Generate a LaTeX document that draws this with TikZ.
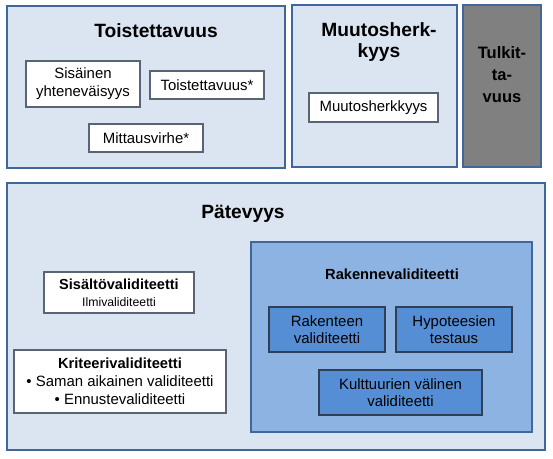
\documentclass[tikz,border=0pt]{standalone}
\usepackage{fontspec}
\setmainfont{Liberation Sans}
\usetikzlibrary{positioning}

\definecolor{paleblue}{HTML}{DBE5F1}
\definecolor{frameblue}{HTML}{41679A}
\definecolor{midblue}{HTML}{8DB3E2}
\definecolor{deepblue}{HTML}{558ED5}
\definecolor{darkline}{HTML}{2F3F55}

\begin{document}
\begin{tikzpicture}[x=0.75pt, y=-0.75pt,
	every node/.style={inner sep=0pt, align=center},
	area/.style={draw=frameblue, line width=2pt, fill=paleblue},
	item/.style={draw=darkline!80, line width=0.8pt, fill=white, font=\fontsize{11.2}{13.5}\selectfont},
	subitem/.style={draw=darkline, line width=0.8pt, fill=deepblue, font=\fontsize{11.2}{13}\selectfont},
	heading/.style={font=\fontsize{14.4}{15.75}\selectfont\bfseries}]
	
	\useasboundingbox (0,0) rectangle (553,458);
	
	% top row
	\node[area, minimum width=208.5pt, minimum height=121.5pt] (rel) at (146,87) {};
	\node[area, minimum width=123.75pt, minimum height=121.5pt] (resp) at (374.5,86) {};
	\node[area, fill=gray, minimum width=58.5pt, minimum height=121.5pt] (interp) at (502,86) {};
	
	\node[heading] (reltitle) at (156,31) {Toistettavuus};
	\node[heading] (resptitle) at (379,42.5) {Muutosherk-\\kyys};
	\node[font=\fontsize{12.4}{16.5}\selectfont\bfseries] (interptitle) at (502,75) {Tulkit-\\ta-\\vuus};
	
	\node[item, minimum width=85.5pt, minimum height=34.5pt] (1) at (83,84) {Sisäinen\\yhteneväisyys};
	\node[item, minimum width=85.5pt, minimum height=21pt] (2) at (207,85) {Toistettavuus*};
	\node[item, minimum width=85.5pt, minimum height=21pt] (3) at (146,138) {Mittausvirhe*};
	\node[item, minimum width=96.75pt, minimum height=21.75pt] (4) at (373.5,107.5) {Muutosherkkyys};
	
	% bottom
	\node[area, minimum width=403.5pt, minimum height=200.25pt] (valid) at (276,316.5) {};
	\node[heading] (validtitle) at (243,214) {Pätevyys};
	
	\node[item, minimum width=112.5pt, minimum height=30.75pt] (5) at (119,292.5)
		{{\fontsize{10.9}{13}\selectfont\bfseries Sisältövaliditeetti}\\[-1pt]{\fontsize{9.2}{11}\selectfont Ilmivaliditeetti}};
	\node[item, minimum width=159pt, minimum height=47.25pt] (6) at (120,381.5)
		{{\fontsize{11}{13.5}\selectfont\bfseries Kriteerivaliditeetti}\\• Saman aikainen validiteetti\\• Ennustevaliditeetti};
	
	\node[area, fill=midblue, minimum width=210.75pt, minimum height=142.5pt] (constr) at (391.5,337) {};
	\node[font=\fontsize{11}{13}\selectfont\bfseries] (constrtitle) at (392,274) {Rakennevaliditeetti};
	
	\node[subitem, minimum width=87pt, minimum height=33.75pt] (7) at (327,329.5) {Rakenteen\\validiteetti};
	\node[subitem, minimum width=87pt, minimum height=33.75pt] (8) at (454,329.5) {Hypoteesien\\testaus};
	\node[subitem, minimum width=122.25pt, minimum height=33.75pt] (9) at (400.5,392.5) {Kulttuurien välinen\\validiteetti};
	
\end{tikzpicture}
\end{document}
